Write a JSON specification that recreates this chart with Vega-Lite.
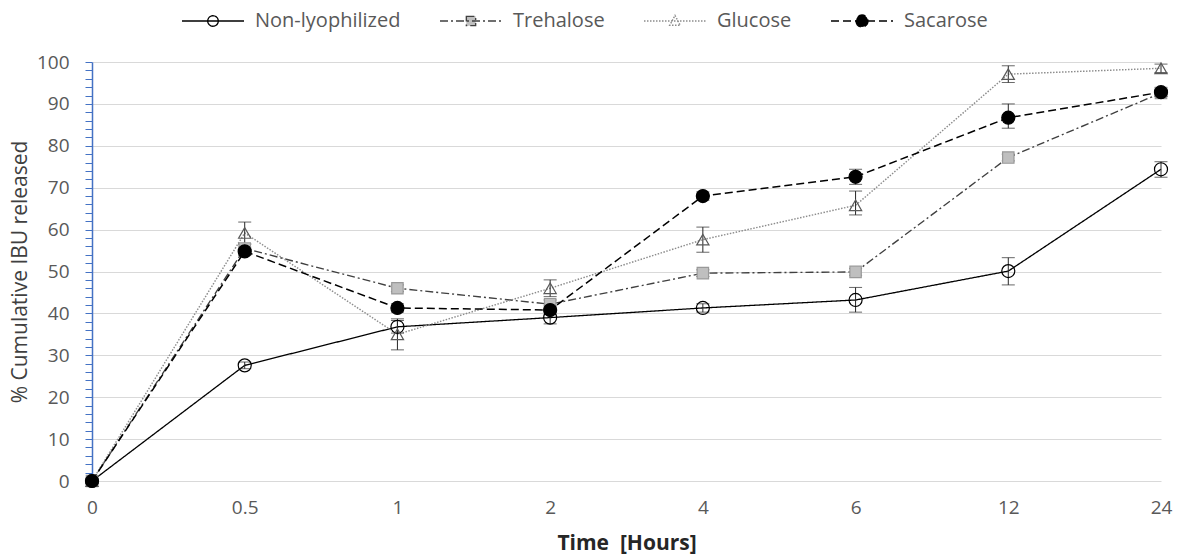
{
  "$schema": "https://vega.github.io/schema/vega-lite/v6.json",
  "width": 1069,
  "height": 419,
  "autosize": {"type": "none"},
  "padding": {"left": 92, "top": 62, "right": 17, "bottom": 74},
  "background": "white",
  "config": {"font": "Open Sans", "view": {"stroke": null}},
  "data": {
    "values": [
      {"s": "Non-lyophilized", "t": "0", "v": 0, "lo": 0, "hi": 0},
      {"s": "Non-lyophilized", "t": "0.5", "v": 27.6, "lo": 26.8, "hi": 28.4},
      {"s": "Non-lyophilized", "t": "1", "v": 36.8, "lo": 35.3, "hi": 38.3},
      {"s": "Non-lyophilized", "t": "2", "v": 39, "lo": 37.5, "hi": 40.5},
      {"s": "Non-lyophilized", "t": "4", "v": 41.3, "lo": 40.3, "hi": 42.3},
      {"s": "Non-lyophilized", "t": "6", "v": 43.2, "lo": 40.3, "hi": 46.2},
      {"s": "Non-lyophilized", "t": "12", "v": 50.1, "lo": 46.8, "hi": 53.3},
      {"s": "Non-lyophilized", "t": "24", "v": 74.4, "lo": 72.5, "hi": 76.2},
      {"s": "Trehalose", "t": "0", "v": 0, "lo": 0, "hi": 0},
      {"s": "Trehalose", "t": "0.5", "v": 55.5, "lo": 54.5, "hi": 56.5},
      {"s": "Trehalose", "t": "1", "v": 46, "lo": 45.2, "hi": 46.8},
      {"s": "Trehalose", "t": "2", "v": 42.2, "lo": 41.2, "hi": 43.2},
      {"s": "Trehalose", "t": "4", "v": 49.6, "lo": 48.8, "hi": 50.4},
      {"s": "Trehalose", "t": "6", "v": 49.9, "lo": 49.1, "hi": 50.7},
      {"s": "Trehalose", "t": "12", "v": 77.2, "lo": 76.4, "hi": 78},
      {"s": "Trehalose", "t": "24", "v": 92.6, "lo": 91.8, "hi": 93.4},
      {"s": "Glucose", "t": "0", "v": 0, "lo": 0, "hi": 0},
      {"s": "Glucose", "t": "0.5", "v": 59.2, "lo": 56.6, "hi": 61.8},
      {"s": "Glucose", "t": "1", "v": 35, "lo": 31.3, "hi": 38.7},
      {"s": "Glucose", "t": "2", "v": 46, "lo": 44, "hi": 48},
      {"s": "Glucose", "t": "4", "v": 57.6, "lo": 54.6, "hi": 60.6},
      {"s": "Glucose", "t": "6", "v": 65.8, "lo": 63.5, "hi": 69.2},
      {"s": "Glucose", "t": "12", "v": 97.1, "lo": 95.1, "hi": 99.1},
      {"s": "Glucose", "t": "24", "v": 98.5, "lo": 97.5, "hi": 99.5},
      {"s": "Sacarose", "t": "0", "v": 0, "lo": 0, "hi": 0},
      {"s": "Sacarose", "t": "0.5", "v": 54.8, "lo": 53.8, "hi": 55.8},
      {"s": "Sacarose", "t": "1", "v": 41.3, "lo": 40.3, "hi": 42.3},
      {"s": "Sacarose", "t": "2", "v": 40.8, "lo": 39.8, "hi": 41.8},
      {"s": "Sacarose", "t": "4", "v": 68, "lo": 67, "hi": 69},
      {"s": "Sacarose", "t": "6", "v": 72.6, "lo": 70.8, "hi": 74.4},
      {"s": "Sacarose", "t": "12", "v": 86.7, "lo": 84.2, "hi": 90},
      {"s": "Sacarose", "t": "24", "v": 92.8, "lo": 91.8, "hi": 93.8}
    ]
  },
  "encoding": {
    "x": {
      "field": "t",
      "type": "ordinal",
      "sort": ["0", "0.5", "1", "2", "4", "6", "12", "24"],
      "scale": {"type": "point", "padding": 0},
      "axis": {
        "title": "Time \u00a0[Hours]",
        "labelAngle": 0,
        "ticks": false,
        "domain": false,
        "grid": false,
        "labelPadding": 17,
        "labelColor": "#595959",
        "labelFontSize": 19,
        "titleFontWeight": "bold",
        "titleColor": "#262626",
        "titleFontSize": 21,
        "titlePadding": 15
      }
    }
  },
  "layer": [
    {
      "mark": {"type": "line"},
      "encoding": {
        "y": {
          "field": "v",
          "type": "quantitative",
          "scale": {"domain": [0, 100], "nice": false},
          "axis": {
            "title": "% Cumulative IBU released",
            "values": [0,2,4,6,8,10,12,14,16,18,20,22,24,26,28,30,32,34,36,38,40,42,44,46,48,50,52,54,56,58,60,62,64,66,68,70,72,74,76,78,80,82,84,86,88,90,92,94,96,98,100],
            "tickCount": 60,
            "labelExpr": "datum.value % 10 === 0 ? datum.label : ''",
            "labelOverlap": false,
            "gridColor": "#d9d9d9",
            "gridOpacity": {"condition": {"test": "datum.value % 10 === 0", "value": 1}, "value": 0},
            "domainColor": "#4472c4",
            "domainWidth": 1.5,
            "tickColor": "#4472c4",
            "tickSize": 7,
            "tickWidth": 1,
            "labelColor": "#595959",
            "labelFontSize": 19,
            "labelPadding": 16,
            "titleColor": "#404040",
            "titleFontSize": 21,
            "titleFontWeight": "normal",
            "titlePadding": 6
          }
        },
        "color": {
          "field": "s",
          "type": "nominal",
          "scale": {"domain": ["Non-lyophilized", "Trehalose", "Glucose", "Sacarose"], "range": ["#000000", "#404040", "#8c8c8c", "#000000"]},
          "legend": {
            "title": null,
            "orient": "none",
            "direction": "horizontal",
            "legendX": 89,
            "legendY": -73,
            "symbolSize": 3844,
            "labelFontSize": 20,
            "labelColor": "#595959",
            "labelOffset": 10,
            "columnPadding": 36,
            "encode": {
              "symbols": {
                "update": {
                  "shape": {"signal": "datum.value === 'Non-lyophilized' ? 'M-1,0H1M-0.17,0A0.17,0.17 0 1 0 0.17,0A0.17,0.17 0 1 0 -0.17,0Z' : datum.value === 'Trehalose' ? 'M-1,0H1M-0.15,-0.15H0.15V0.15H-0.15Z' : datum.value === 'Glucose' ? 'M-1,0H1M0,-0.18L0.17,0.14H-0.17Z' : 'M-1,0H1M-0.19,0A0.19,0.19 0 1 0 0.19,0A0.19,0.19 0 1 0 -0.19,0Z'"},
                  "fill": {"signal": "datum.value === 'Non-lyophilized' ? 'transparent' : datum.value === 'Trehalose' ? '#bfbfbf' : datum.value === 'Glucose' ? 'transparent' : '#000000'"},
                  "strokeDash": {"signal": "datum.value === 'Non-lyophilized' ? [1,0] : datum.value === 'Trehalose' ? [6,3,2,3,2,3] : datum.value === 'Glucose' ? [1.5,1.5] : [6,4]"},
                  "strokeWidth": {"signal": "datum.value === 'Glucose' ? 1 : 1.5"},
                  "opacity": {"value": 1}
                }
              }
            }
          }
        },
        "strokeDash": {
          "field": "s",
          "type": "nominal",
          "scale": {"domain": ["Non-lyophilized", "Trehalose", "Glucose", "Sacarose"], "range": [[1, 0], [8, 3, 2, 3], [1.5, 1.5], [8, 4]]},
          "legend": null
        },
        "strokeWidth": {
          "field": "s",
          "type": "ordinal",
          "scale": {"domain": ["Non-lyophilized", "Trehalose", "Glucose", "Sacarose"], "range": [1.3, 1.5, 1, 2]},
          "legend": null
        }
      }
    },
    {
      "mark": {"type": "rule", "color": "#262626", "strokeWidth": 1},
      "encoding": {
        "y": {"field": "lo", "type": "quantitative"},
        "y2": {"field": "hi"}
      }
    },
    {
      "mark": {"type": "tick", "orient": "horizontal", "color": "#262626", "size": 13, "thickness": 1},
      "encoding": {"y": {"field": "lo", "type": "quantitative"}}
    },
    {
      "mark": {"type": "tick", "orient": "horizontal", "color": "#262626", "size": 13, "thickness": 1},
      "encoding": {"y": {"field": "hi", "type": "quantitative"}}
    },
    {
      "transform": [{"filter": "datum.s === 'Non-lyophilized'"}],
      "mark": {"type": "point", "shape": "circle", "filled": false, "fill": "transparent", "stroke": "#000000", "size": 170, "strokeWidth": 1.2, "opacity": 1},
      "encoding": {"y": {"field": "v", "type": "quantitative"}}
    },
    {
      "transform": [{"filter": "datum.s === 'Trehalose'"}],
      "mark": {"type": "point", "shape": "square", "filled": true, "fill": "#bfbfbf", "stroke": "#999999", "size": 130, "strokeWidth": 1.2, "opacity": 1},
      "encoding": {"y": {"field": "v", "type": "quantitative"}}
    },
    {
      "transform": [{"filter": "datum.s === 'Glucose'"}],
      "mark": {"type": "point", "shape": "triangle-up", "filled": false, "fill": "transparent", "stroke": "#595959", "size": 150, "strokeWidth": 1.2, "opacity": 1},
      "encoding": {"y": {"field": "v", "type": "quantitative"}}
    },
    {
      "transform": [{"filter": "datum.s === 'Sacarose'"}],
      "mark": {"type": "point", "shape": "circle", "filled": true, "fill": "#000000", "stroke": "#000000", "size": 170, "strokeWidth": 1.2, "opacity": 1},
      "encoding": {"y": {"field": "v", "type": "quantitative"}}
    }
  ]
}
